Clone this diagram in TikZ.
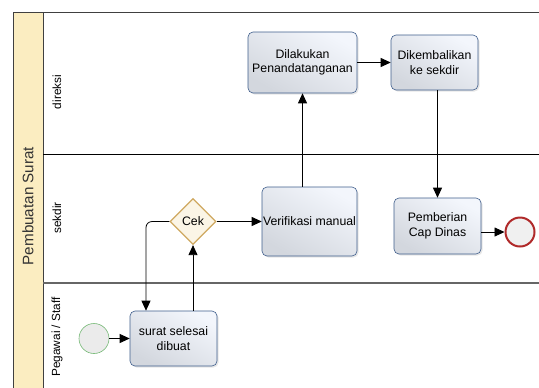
\documentclass[tikz,border=0pt]{standalone}
\usepackage{fontspec}
\setmainfont{Liberation Sans}
\usepackage{tikz}
\usetikzlibrary{arrows.meta,shapes.geometric,shadows}

\definecolor{poolband}{HTML}{FBEDC1}
\definecolor{taskline}{HTML}{3F5E8C}
\definecolor{tasktop}{HTML}{F3F6FC}
\definecolor{taskbot}{HTML}{D3D7DE}
\definecolor{gateline}{HTML}{CFA860}
\definecolor{gatefill}{HTML}{FBF5E6}
\definecolor{startline}{HTML}{74B874}
\definecolor{endline}{HTML}{B02A2A}

\begin{document}
\begin{tikzpicture}
	[x=1bp,y=-1bp,->,>={Triangle[length=10bp,width=9bp]},semithick,
		font=\fontsize{12.3bp}{14.5bp}\selectfont,
		task node/.style={rectangle,rounded corners=5bp,draw=taskline,top color=tasktop,bottom color=taskbot,
			shading angle=-30,align=center,inner sep=1bp,drop shadow={opacity=0.2,shadow xshift=1.5bp,shadow yshift=-1.5bp}},
		gate node/.style={diamond,draw=gateline,fill=gatefill,minimum width=46bp,minimum height=46bp,inner sep=0pt,line width=1.2bp},
		start node/.style={circle,draw=startline,fill=black!8,minimum size=30bp,inner sep=0pt},
		end node/.style={circle,draw=endline,fill=black!6,minimum size=29bp,inner sep=0pt,line width=2bp},
		lane label/.style={rotate=90,font=\fontsize{11.8bp}{13bp}\selectfont},
		flow/.style={->,black,line width=0.8bp}]

	\useasboundingbox (0,0) rectangle (539,387);
	\clip (0,0) rectangle (539,387);

	% pool and lanes
	\draw[-,fill=poolband,draw=black!75] (13,12) rectangle (43,395);
	\draw[-,draw=black!75] (43,12) rectangle (545,395);
	\draw[-,black] (43,154) -- (545,154);
	\draw[-,black!60,line width=1.2bp] (43,283) -- (545,283);
	\node[rotate=90,font=\fontsize{15.2bp}{17bp}\selectfont,text=black!80] (pool) at (28,206) {Pembuatan Surat};
	\node[lane label] (direksi) at (57,92) {direksi};
	\node[lane label] (sekdir) at (57,218) {sekdir};
	\node[lane label] (staff) at (57,337) {Pegawai / Staff};

	% activities
	\node[task node,minimum width=109bp,minimum height=61bp] (D1) at (302.5,62.5) {Dilakukan\\Penandatanganan};
	\node[task node,minimum width=87bp,minimum height=55bp] [right of=D1,node distance=132bp] (D2) {Dikembalikan\\ke sekdir};
	\node[task node,minimum width=95bp,minimum height=69bp] (V) at (309.5,221.5) {Verifikasi manual};
	\node[gate node] [left of=V,node distance=116.5bp] (C) {Cek};
	\node[task node,minimum width=87bp,minimum height=56bp] (P) at (437.5,226) {Pemberian\\Cap Dinas};
	\node[end node] (E) at (520,232) {};
	\node[task node,minimum width=87bp,minimum height=55bp] (T) at (173.5,338.5) {surat selesai\\dibuat};
	\node[start node] [left of=T,node distance=79.5bp] (S) {};

	\path[flow]
	(S) edge (T)
	(T.north -| C.south) edge (C.south)
	(C) edge (V)
	(V.north -| D1.south) edge (D1.south)
	(D1.east |- D2.west) edge (D2.west)
	(D2.south -| P.north) edge (P.north)
	(E -| P.east) edge (E)
	;
	\draw[flow,rounded corners=6bp] (C.west) -| ([xshift=-27.5bp]T.north);

\end{tikzpicture}
\end{document}
